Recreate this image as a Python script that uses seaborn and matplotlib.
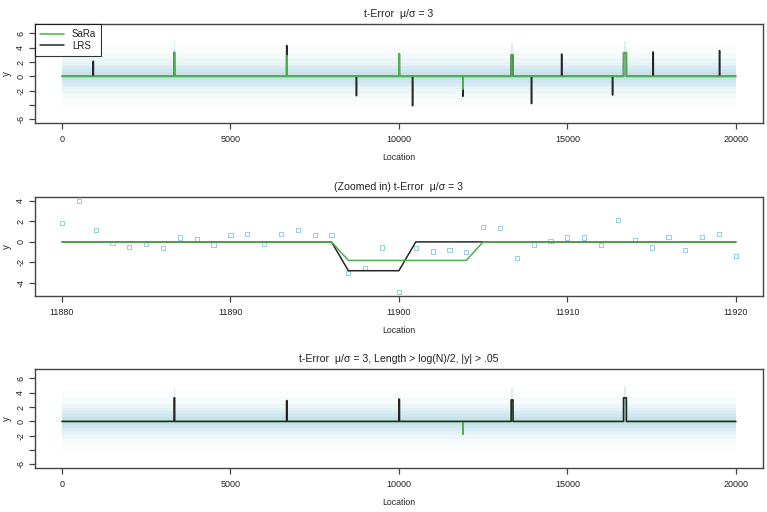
import matplotlib
matplotlib.use("Agg")
import matplotlib.pyplot as plt
import seaborn as sns
import pandas as pd
import numpy as np

N_LOC = 20000

# SaRa estimated segments
sara_start = [3333, 6667, 10000, 11897, 13333, 16667]
sara_end = [3343, 6680, 10015, 11904, 13385, 16750]
sara_level = [3.3, 2.9, 3.1, -1.8, 3.0, 3.3]

# LRS estimated segments
lrs_start = [925, 3333, 6667, 8735, 10000, 10400, 11897, 13333, 13930, 14825, 16335, 16667, 17540, 19510]
lrs_end = [935, 3343, 6675, 8745, 10015, 10410, 11900, 13385, 13940, 14835, 16345, 16750, 17550, 19520]
lrs_level = [2.1, 3.35, 4.3, -2.7, 3.1, -4.1, -2.8, 3.0, -3.8, 3.1, -2.6, 3.3, 3.4, 3.6]

# LRS after the length / size filter
lrsf_start = [3333, 6667, 10000, 13333, 16667]
lrsf_end = [3343, 6680, 10015, 13385, 16750]
lrsf_level = [3.3, 2.9, 3.1, 3.0, 3.3]

# envelope of the noisy observations (dense core -> sparse outliers)
cloud_upper = [0.6, 1.0, 1.4, 1.9, 2.5, 3.3, 4.4]
cloud_lower = [-0.5, -0.9, -1.3, -1.8, -2.4, -3.2, -4.3]
cloud_alpha = [0.16, 0.16, 0.15, 0.12, 0.09, 0.06, 0.04]

# observations in the zoomed window
zoom_loc = np.arange(11880, 11921)
zoom_y = [1.86, 4.0, 1.16, -0.13, -0.48, -0.16, -0.58, 0.42, 0.29, -0.26,
          0.64, 0.74, -0.16, 0.74, 1.12, 0.71, 0.71, -3.02, -2.54, -0.54,
          -4.85, -0.61, -0.93, -0.77, -1.0, 1.41, 1.32, -1.54, -0.26, 0.1,
          0.42, 0.42, -0.29, 2.15, 0.19, -0.55, 0.51, -0.8, 0.51, 0.77, -1.35]

C_GREEN = "#4daf4a"
C_BLACK = "#262626"
C_CLOUD = "#9fd0e0"
C_FRAME = "#444444"

sns.set_theme(style="ticks")
plt.rcParams['font.family'] = ['Liberation Sans', 'DejaVu Sans']
plt.rcParams['text.color'] = "#222222"
plt.rcParams['axes.edgecolor'] = C_FRAME
plt.rcParams['axes.linewidth'] = 1.0
plt.rcParams['xtick.color'] = C_FRAME
plt.rcParams['ytick.color'] = C_FRAME
plt.rcParams['xtick.labelcolor'] = "#222222"
plt.rcParams['ytick.labelcolor'] = "#222222"


def step_frame(starts, ends, levels, lo=0, hi=N_LOC):
    xs, ys = [lo], [0.0]
    for s, e, h in zip(starts, ends, levels):
        xs += [s - 1, s, e, e + 1]
        ys += [0.0, h, h, 0.0]
    xs.append(hi)
    ys.append(0.0)
    df = pd.DataFrame({'Location': xs, 'y': ys})
    return df[(df['Location'] >= lo) & (df['Location'] <= hi)]


def style_axes(ax, xticks, yticks, ylabels, title):
    ax.set_xticks(xticks)
    ax.set_xticklabels([str(t) for t in xticks])
    ax.set_yticks(yticks)
    ax.set_yticklabels(ylabels, rotation=90, va='center')
    ax.tick_params(axis='both', length=4, width=0.9, labelsize=6.5, pad=3)
    ax.tick_params(axis='x', pad=5)
    ax.set_xlabel("Location", fontsize=6.3, labelpad=6)
    ax.set_ylabel("y", fontsize=7, labelpad=3)
    ax.set_title(title, fontsize=7.6, pad=5)
    for sp in ax.spines.values():
        sp.set_visible(True)
        sp.set_color(C_FRAME)


def draw_cloud(ax):
    for up, lo, a in zip(cloud_upper, cloud_lower, cloud_alpha):
        ax.fill_between([0, N_LOC], [lo, lo], [up, up], color=C_CLOUD, alpha=a, lw=0)
    # observations sitting on the short raised segments
    for s, e, h in zip(sara_start, sara_end, sara_level):
        ax.fill_between([s, e], [h - 1.2, h - 1.2], [h + 1.6, h + 1.6],
                        color=C_CLOUD, alpha=0.35, lw=0)


fig = plt.figure(figsize=(7.67, 5.12), dpi=100)
ax1 = fig.add_axes([0.0456, 0.760, 0.949, 0.193])
ax2 = fig.add_axes([0.0456, 0.422, 0.949, 0.193])
ax3 = fig.add_axes([0.0456, 0.086, 0.949, 0.193])

big_yt = [-6, -4, -2, 0, 2, 4, 6]
big_yl = ["-6", "", "-2", "0", "2", "4", "6"]
big_xt = [0, 5000, 10000, 15000, 20000]

# top: raw estimates
draw_cloud(ax1)
sns.lineplot(data=step_frame(lrs_start, lrs_end, lrs_level), x='Location', y='y',
             ax=ax1, color=C_BLACK, lw=1.1, sort=False, estimator=None)
sns.lineplot(data=step_frame(sara_start, sara_end, sara_level), x='Location', y='y',
             ax=ax1, color=C_GREEN, lw=1.1, sort=False, estimator=None)
ax1.set_xlim(-800, 20800)
ax1.set_ylim(-6.5, 7.3)
style_axes(ax1, big_xt, big_yt, big_yl, "t-Error  μ/σ = 3")
h_sara = plt.Line2D([], [], color=C_GREEN, lw=1.1)
h_lrs = plt.Line2D([], [], color=C_BLACK, lw=1.1)
leg = ax1.legend([h_sara, h_lrs], ["SaRa", "LRS"], loc='upper left', fontsize=7,
                 frameon=True, fancybox=False, borderaxespad=0, handlelength=2.5,
                 borderpad=0.5, labelspacing=0.2)
leg.get_frame().set_edgecolor("black")
leg.get_frame().set_linewidth(0.8)

# middle: zoomed window
zoom_df = pd.DataFrame({'Location': zoom_loc, 'y': zoom_y})
sns.scatterplot(data=zoom_df, x='Location', y='y', ax=ax2, marker='s', s=9,
                facecolor='none', edgecolor="#9ccfe0", linewidth=0.8)
sns.lineplot(data=step_frame(lrs_start, lrs_end, lrs_level, 11880, 11920), x='Location', y='y',
             ax=ax2, color=C_BLACK, lw=1.1, sort=False, estimator=None)
sns.lineplot(data=step_frame(sara_start, sara_end, sara_level, 11880, 11920), x='Location', y='y',
             ax=ax2, color=C_GREEN, lw=1.1, sort=False, estimator=None)
ax2.set_xlim(11878.4, 11921.6)
ax2.set_ylim(-5.25, 4.35)
style_axes(ax2, [11880, 11890, 11900, 11910, 11920], [-4, -2, 0, 2, 4],
           ["-4", "-2", "0", "2", "4"], "(Zoomed in) t-Error  μ/σ = 3")

# bottom: filtered
draw_cloud(ax3)
sns.lineplot(data=step_frame(sara_start, sara_end, sara_level), x='Location', y='y',
             ax=ax3, color=C_GREEN, lw=1.1, sort=False, estimator=None)
sns.lineplot(data=step_frame(lrsf_start, lrsf_end, lrsf_level), x='Location', y='y',
             ax=ax3, color=C_BLACK, lw=1.1, sort=False, estimator=None)
ax3.set_xlim(-800, 20800)
ax3.set_ylim(-6.5, 7.3)
style_axes(ax3, big_xt, big_yt, big_yl, "t-Error  μ/σ = 3, Length > log(N)/2, |y| > .05")

fig.savefig("out.png", dpi=100)
plt.close(fig)
